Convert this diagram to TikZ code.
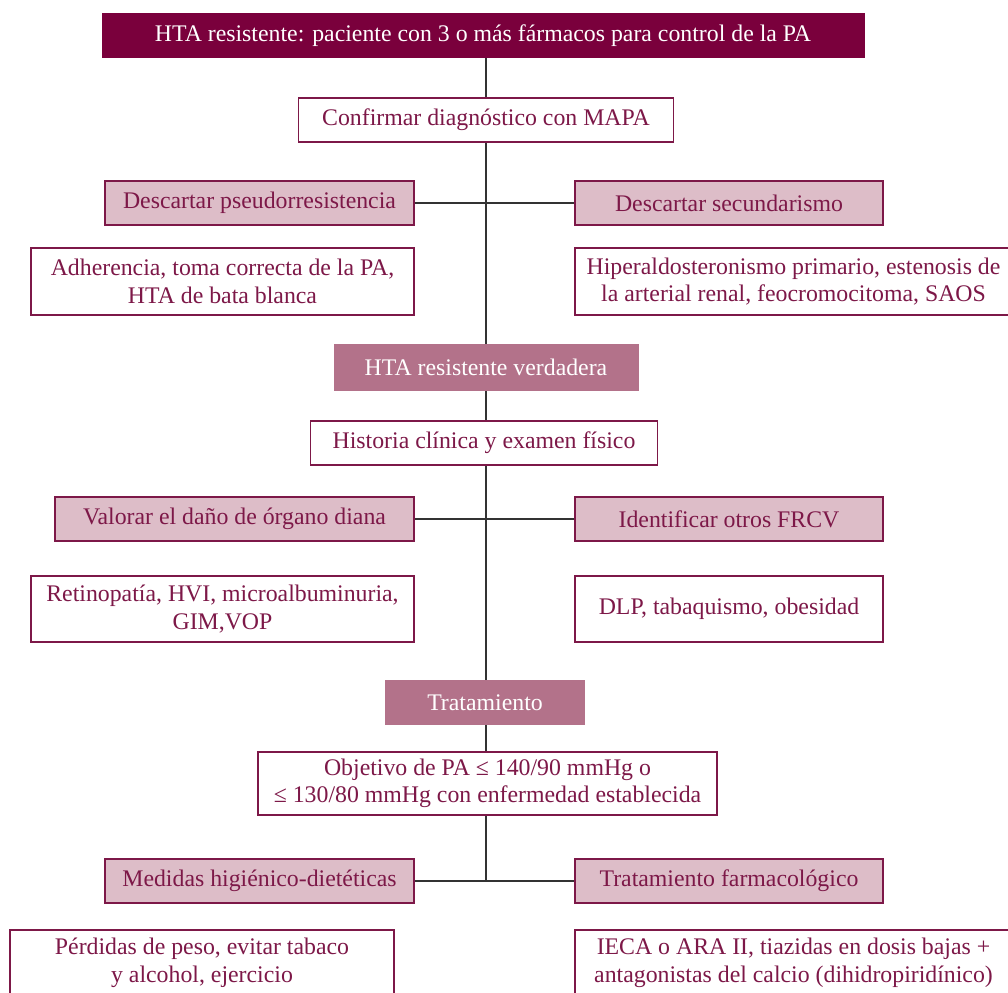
\documentclass[tikz,border=0pt]{standalone}
\usepackage{fontspec}
\setmainfont{Liberation Serif}
\usetikzlibrary{positioning}

\definecolor{vino}{HTML}{7A003C}
\definecolor{rosa}{HTML}{DDBDC8}
\definecolor{malva}{HTML}{B3728A}
\definecolor{granate}{HTML}{7D1848}

\begin{document}
\begin{tikzpicture}[
		x=1pt, y=-1pt,
		every node/.style={
			shape=rectangle,
			inner sep=0pt,
			align=center,
			font=\fontsize{23.8}{27.5}\selectfont,
			text=granate,
		},
		titulo/.style={fill=vino, text=white},
		etapa/.style={fill=malva, text=white},
		paso/.style={draw=granate, fill=white, line width=1.2pt},
		rama/.style={draw=granate, fill=rosa, line width=1.2pt},
		enlace/.style={draw=black!80, line width=1.3pt},
	]
		\clip (0,0) rectangle (1008,992);
		\fill[white] (0,0) rectangle (1008,992);

		% eje central
		\node[titulo, minimum width=763pt, minimum height=45pt] (hta) at (483,35.5)
			{HTA resistente: paciente con 3 o más fármacos para control de la PA};
		\node[paso, minimum width=375pt, minimum height=44pt] (mapa) at (486,120)
			{Confirmar diagnóstico con MAPA};
		\node[etapa, minimum width=305pt, minimum height=47pt] (verdadera) at (486,367.5)
			{HTA resistente verdadera};
		\node[paso, minimum width=347pt, minimum height=44pt] (historia) at (484,443)
			{Historia clínica y examen físico};
		\node[etapa, minimum width=200pt, minimum height=45pt] (tratamiento) at (485,702.5)
			{Tratamiento};
		\node[paso, minimum width=459pt, minimum height=63pt] (objetivo) at (487.5,783.5)
			{Objetivo de PA ≤ 140/90 mmHg o\\≤ 130/80 mmHg con enfermedad establecida};

		% ramas
		\node[rama, minimum width=309pt, minimum height=44pt] (pseudo) at (259.5,203)
			{Descartar pseudorresistencia};
		\node[rama, minimum width=308pt, minimum height=44pt] (secund) at (729,203)
			{Descartar secundarismo};
		\node[paso, minimum width=383pt, minimum height=67pt] (adherencia) at (222.5,281.5)
			{Adherencia, toma correcta de la PA,\\HTA de bata blanca};
		\node[paso, minimum width=437pt, minimum height=67pt] (hiperaldo) at (793.5,281.5)
			{Hiperaldosteronismo primario, estenosis de\\la arterial renal, feocromocitoma, SAOS};

		\node[rama, minimum width=359pt, minimum height=44pt] (organo) at (234.5,519)
			{Valorar el daño de órgano diana};
		\node[rama, minimum width=308pt, minimum height=44pt] (frcv) at (729,519)
			{Identificar otros FRCV};
		\node[paso, minimum width=383pt, minimum height=66pt] (retino) at (222.5,609)
			{Retinopatía, HVI, microalbuminuria,\\GIM,VOP};
		\node[paso, minimum width=308pt, minimum height=66pt] (dlp) at (729,609)
			{DLP, tabaquismo, obesidad};

		\node[rama, minimum width=309pt, minimum height=44pt] (medidas) at (259.5,881)
			{Medidas higiénico-dietéticas};
		\node[rama, minimum width=308pt, minimum height=44pt] (farmaco) at (729,881)
			{Tratamiento farmacológico};
		\node[paso, minimum width=384pt, minimum height=66pt] (perdidas) at (202,963)
			{Pérdidas de peso, evitar tabaco\\y alcohol, ejercicio};
		\node[paso, minimum width=437pt, minimum height=66pt] (ieca) at (793.5,963)
			{IECA o ARA II, tiazidas en dosis bajas +\\antagonistas del calcio (dihidropiridínico)};

		% conexiones
		\coordinate (fin) at (486,881);
		\draw[enlace] (hta.south -| mapa) -- (mapa);
		\draw[enlace] (mapa) -- (verdadera);
		\draw[enlace] (pseudo) -- (secund);
		\draw[enlace] (verdadera) -- (historia.north -| verdadera);
		\draw[enlace] (historia.south -| verdadera) -- (tratamiento.north -| verdadera);
		\draw[enlace] (organo) -- (frcv);
		\draw[enlace] (tratamiento.south -| verdadera) -- (objetivo.north -| verdadera);
		\draw[enlace] (objetivo.south -| verdadera) -- (fin);
		\draw[enlace] (medidas) -- (farmaco);
	\end{tikzpicture}
\end{document}
